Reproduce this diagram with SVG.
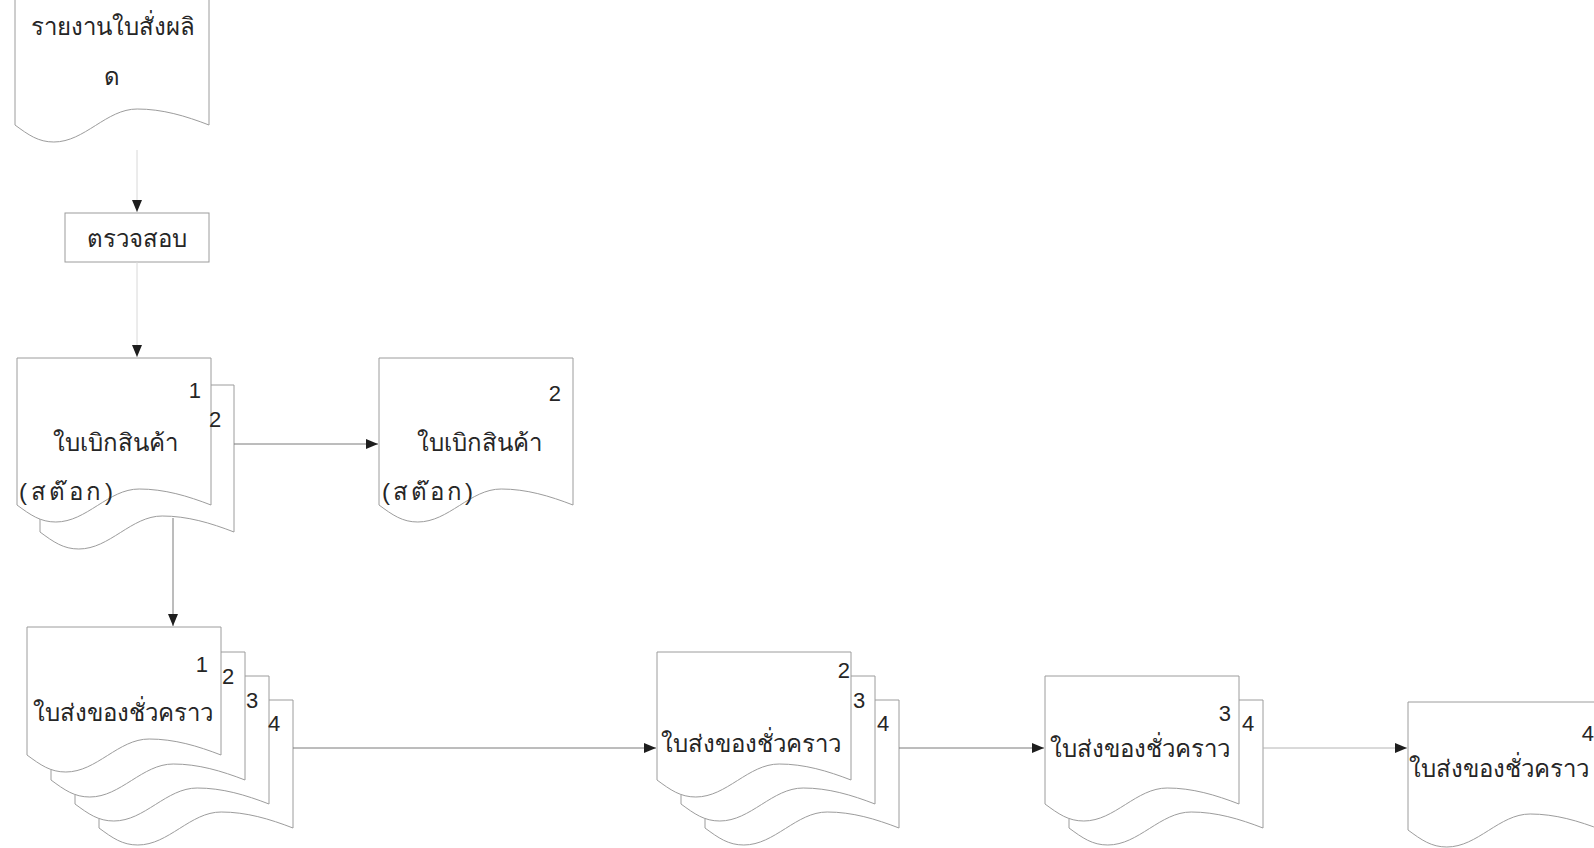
<svg xmlns="http://www.w3.org/2000/svg" xmlns:xlink="http://www.w3.org/1999/xlink" width="1594" height="848" viewBox="0 0 1594 848">
  <style>
    .doc { fill: #ffffff; stroke: #9c9c9c; stroke-width: 1; }
    .box { fill: #ffffff; stroke: #9c9c9c; stroke-width: 1; }
    .conn { fill: none; stroke: #7a7a7a; stroke-width: 1; marker-end: url(#arrow); }
    .faint { stroke: #d8d8d8; }
    .light { stroke: #b4b4b4; }
    .th { font-family: "Liberation Sans", "DejaVu Sans", sans-serif; font-size: 24px; fill: #262626; }
    .num { font-family: "Liberation Sans", Arial, sans-serif; font-size: 22px; fill: #262626; }
  </style>
  <defs>
    <marker id="arrow" viewBox="0 0 12 10" refX="12" refY="5" markerWidth="12" markerHeight="10" markerUnits="userSpaceOnUse" orient="auto">
      <path d="M0,0 L12,5 L0,10 Z" fill="#1e1e1e"/>
    </marker>
    <!-- document sheet, 194 wide, wavy bottom edge -->
    <path id="doc128" class="doc" d="M0,128 V0 H194 V128 C170.7,119 147.4,112 122.2,112 C91.2,112 69.8,145 38.8,145 C23.3,145 13.6,138 0,128 Z"/>
    <path id="doc147" class="doc" d="M0,147 V0 H194 V147 C170.7,138 147.4,131 122.2,131 C91.2,131 69.8,164 38.8,164 C23.3,164 13.6,157 0,147 Z"/>
    <path id="doc135" class="doc" d="M0,135 V0 H194 V135 C170.7,126 147.4,119 122.2,119 C91.2,119 69.8,152 38.8,152 C23.3,152 13.6,145 0,135 Z"/>
  </defs>

  <!-- production order report -->
  <g id="report">
    <use xlink:href="#doc135" x="15" y="-10"/>
    <text class="th" x="113" y="35" text-anchor="middle">รายงานใบสั่งผลิ</text>
    <text class="th" x="112" y="85" text-anchor="middle">ด</text>
  </g>

  <!-- check step -->
  <g id="check">
    <rect class="box" x="65" y="213" width="144" height="49"/>
    <text class="th" x="137" y="247" text-anchor="middle">ตรวจสอบ</text>
  </g>

  <!-- stock requisition, copies 1-2 -->
  <g id="requisition">
    <use xlink:href="#doc147" x="40" y="385"/>
    <use xlink:href="#doc147" x="17" y="358"/>
    <text class="num" x="201" y="398" text-anchor="end">1</text>
    <text class="num" x="209" y="427">2</text>
    <text class="th" x="115" y="451" text-anchor="middle">ใบเบิกสินค้า</text>
    <text class="th" x="19" y="500" textLength="94" lengthAdjust="spacing">(สต๊อก)</text>
  </g>

  <!-- stock requisition, copy 2 -->
  <g id="requisition-copy2">
    <use xlink:href="#doc147" x="379" y="358"/>
    <text class="num" x="561" y="401" text-anchor="end">2</text>
    <text class="th" x="479" y="451" text-anchor="middle">ใบเบิกสินค้า</text>
    <text class="th" x="382" y="500" textLength="91" lengthAdjust="spacing">(สต๊อก)</text>
  </g>

  <!-- temporary delivery note, copies 1-4 -->
  <g id="delivery-1234">
    <use xlink:href="#doc128" x="99" y="700"/>
    <use xlink:href="#doc128" x="75" y="676"/>
    <use xlink:href="#doc128" x="51" y="652"/>
    <use xlink:href="#doc128" x="27" y="627"/>
    <text class="num" x="208" y="672" text-anchor="end">1</text>
    <text class="num" x="222" y="684">2</text>
    <text class="num" x="246" y="708">3</text>
    <text class="num" x="268" y="731">4</text>
    <text class="th" x="123" y="721" text-anchor="middle">ใบส่งของชั่วคราว</text>
  </g>

  <!-- temporary delivery note, copies 2-4 -->
  <g id="delivery-234">
    <use xlink:href="#doc128" x="705" y="700"/>
    <use xlink:href="#doc128" x="681" y="676"/>
    <use xlink:href="#doc128" x="657" y="652"/>
    <text class="num" x="850" y="678" text-anchor="end">2</text>
    <text class="num" x="853" y="708">3</text>
    <text class="num" x="877" y="731">4</text>
    <text class="th" x="751" y="752" text-anchor="middle">ใบส่งของชั่วคราว</text>
  </g>

  <!-- temporary delivery note, copies 3-4 -->
  <g id="delivery-34">
    <use xlink:href="#doc128" x="1069" y="700"/>
    <use xlink:href="#doc128" x="1045" y="676"/>
    <text class="num" x="1231" y="721" text-anchor="end">3</text>
    <text class="num" x="1242" y="731">4</text>
    <text class="th" x="1140" y="757" text-anchor="middle">ใบส่งของชั่วคราว</text>
  </g>

  <!-- temporary delivery note, copy 4 -->
  <g id="delivery-4">
    <use xlink:href="#doc128" x="1408" y="702"/>
    <text class="num" x="1594" y="741" text-anchor="end">4</text>
    <text class="th" x="1409" y="777">ใบส่งของชั่วคราว</text>
  </g>

  <!-- connectors -->
  <g id="connectors">
    <path class="conn faint" d="M137,150 V212"/>
    <path class="conn faint" d="M137,262 V357"/>
    <path class="conn" d="M234,444 H378"/>
    <path class="conn" d="M173,518 V626"/>
    <path class="conn" d="M293,748 H656"/>
    <path class="conn" d="M899,748 H1044"/>
    <path class="conn light" d="M1263,748 H1407"/>
  </g>
</svg>
